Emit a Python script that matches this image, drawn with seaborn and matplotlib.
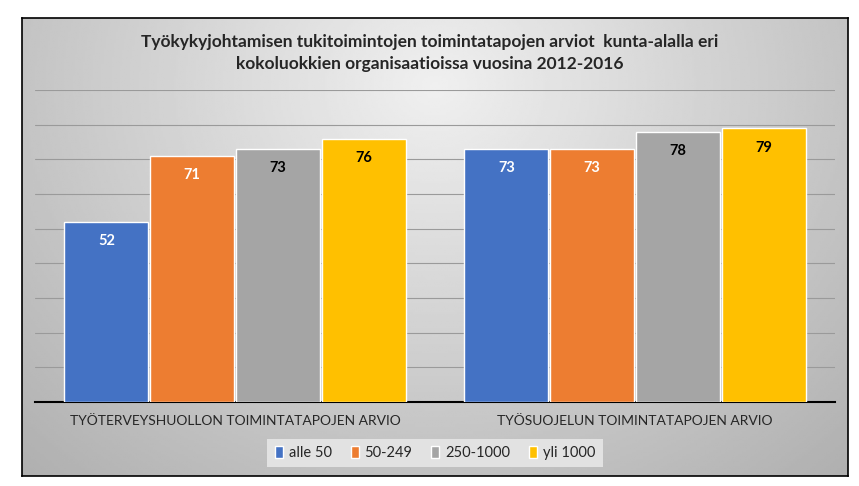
import numpy as np
import pandas as pd
import matplotlib.pyplot as plt
import seaborn as sns
from matplotlib.patches import Patch

categories = ['TYÖTERVEYSHUOLLON TOIMINTATAPOJEN ARVIO', 'TYÖSUOJELUN TOIMINTATAPOJEN ARVIO']
groups = ['alle 50', '50-249', '250-1000', 'yli 1000']
values_alle50 = [52, 73]
values_50_249 = [71, 73]
values_250_1000 = [73, 78]
values_yli1000 = [76, 79]
colors = ['#4472C4', '#ED7D31', '#A5A5A5', '#FFC000']
label_colors = ['white', 'white', 'black', 'black']
title = ('Työkykyjohtamisen tukitoimintojen toimintatapojen arviot  kunta-alalla eri\n'
         'kokoluokkien organisaatioissa vuosina 2012-2016')

rows = []
for g, vals in zip(groups, [values_alle50, values_50_249, values_250_1000, values_yli1000]):
    for c, v in zip(categories, vals):
        rows.append({'kategoria': c, 'ryhmä': g, 'arvo': v})
df = pd.DataFrame(rows)

sns.set_style('white')
plt.rcParams['font.family'] = ['Lato', 'DejaVu Sans']

fig = plt.figure(figsize=(8.59, 4.86), dpi=100)
W, H = 859, 486

# background frame with soft gradient
bg = fig.add_axes([22 / W, 1 - 476 / H, 826 / W, 458 / H])
yy, xx = np.mgrid[0:1:200j, 0:1:400j]
r = np.sqrt(((xx - 0.5) / 0.7) ** 2 + ((yy - 0.15) / 1.1) ** 2)
shade = 0.94 - 0.24 * np.clip(r, 0, 1.2)
bg.imshow(shade, cmap='gray', vmin=0, vmax=1, aspect='auto', extent=[0, 1, 0, 1], origin='upper')
bg.set_xticks([])
bg.set_yticks([])
for s in bg.spines.values():
    s.set_color('black')
    s.set_linewidth(1.2)

ax = fig.add_axes([35 / W, 1 - 402 / H, 800 / W, 312 / H])
ax.patch.set_alpha(0)
sns.barplot(data=df, x='kategoria', y='arvo', hue='ryhmä', palette=colors, saturation=1,
            width=0.857, gap=0.02, ax=ax, legend=False, zorder=3)
ax.set_ylim(0, 90)
ax.set_yticks(range(10, 91, 10))
ax.yaxis.grid(True, color='#9a9a9a', linewidth=0.8)
ax.set_axisbelow(True)
ax.tick_params(axis='y', left=False, labelleft=False)
ax.tick_params(axis='x', bottom=False, pad=6, labelsize=10, labelcolor='#262626')
ax.set_xlabel('')
ax.set_ylabel('')
for side in ['top', 'left', 'right']:
    ax.spines[side].set_visible(False)
ax.spines['bottom'].set_color('black')
ax.spines['bottom'].set_linewidth(1.5)

for cont, lc in zip(ax.containers, label_colors):
    ax.bar_label(cont, padding=-19, fontsize=10.5, fontweight='bold', color=lc)

fig.text(0.5, 1 - 53 / H, title, ha='center', va='center', fontsize=12.5,
         fontweight='bold', color='#262626', linespacing=1.45)

handles = [Patch(facecolor=c, label=g) for c, g in zip(colors, groups)]
fig.legend(handles=handles, loc='center', bbox_to_anchor=(435 / W, 1 - 453 / H), ncol=4,
           frameon=True, facecolor='#e2e2e2', edgecolor='none', framealpha=1, fancybox=False,
           fontsize=10.5, handlelength=0.55, handleheight=0.9, handletextpad=0.4,
           columnspacing=1.3, borderpad=0.5, labelcolor='#262626')

fig.savefig('out.png', dpi=100)
